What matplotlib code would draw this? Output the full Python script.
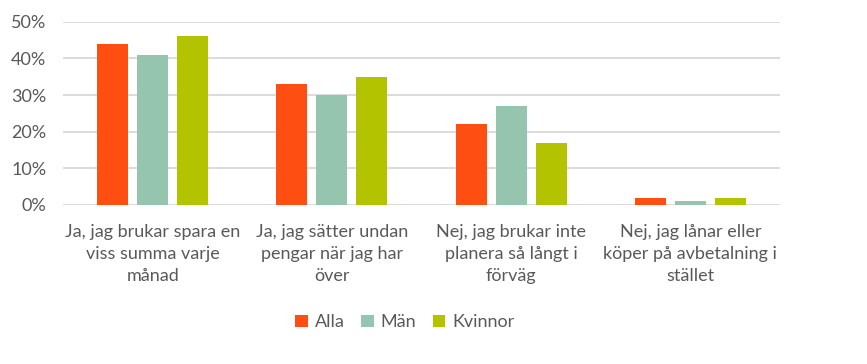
import matplotlib
matplotlib.use("Agg")
import matplotlib.pyplot as plt
import numpy as np
from matplotlib.ticker import PercentFormatter

categories = ["Ja, jag brukar spara en\nviss summa varje\nmånad",
              "Ja, jag sätter undan\npengar när jag har\növer",
              "Nej, jag brukar inte\nplanera så långt i\nförväg",
              "Nej, jag lånar eller\nköper på avbetalning i\nstället"]
series = ["Alla", "Män", "Kvinnor"]
alla = [44, 33, 22, 2]
man = [41, 30, 27, 1]
kvinnor = [46, 35, 17, 2]
colors = ["#FF4E12", "#95C4AF", "#B3C300"]

plt.rcParams['font.family'] = ['Lato', 'DejaVu Sans']
textcol = "#595959"

fig = plt.figure(figsize=(8.67, 3.64), dpi=100)
ax = fig.add_axes([0.0727, 0.437, 0.827, 0.503])

x = np.arange(len(categories))
w = 0.173
step = 0.223
for i, (vals, name) in enumerate(zip([alla, man, kvinnor], series)):
    ax.bar(x + (i - 1) * step, vals, width=w, color=colors[i], label=name, zorder=3)

ax.set_xlim(-0.5, len(categories) - 0.5)
ax.set_ylim(0, 50)
ax.set_yticks(range(0, 51, 10))
ax.yaxis.set_major_formatter(PercentFormatter(decimals=0))
ax.grid(axis='y', color='#D9D9D9', linewidth=1.3, zorder=0)
for s in ax.spines.values():
    s.set_visible(False)
ax.tick_params(axis='both', length=0, labelsize=13, colors=textcol)
ax.tick_params(axis='y', pad=12)
ax.set_xticks(x)
ax.set_xticklabels(categories, linespacing=1.45)
ax.tick_params(axis='x', pad=14)

fig.legend(loc='center', bbox_to_anchor=(0.467, 0.115), ncol=3, frameon=False,
           fontsize=13, labelcolor=textcol, handlelength=0.7, handleheight=0.7,
           handletextpad=0.4, columnspacing=0.9)

fig.savefig("out.png", dpi=100)
